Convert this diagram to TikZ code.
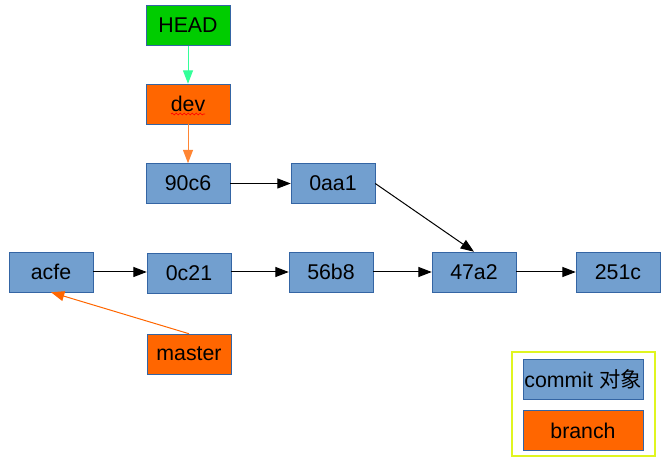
\documentclass[tikz,border=0pt]{standalone}
\usepackage{fontspec}
\setmainfont{Liberation Sans}
\newfontfamily\cjkfont{Noto Sans CJK SC}
\usetikzlibrary{arrows.meta,decorations.pathmorphing}

\definecolor{commitblue}{HTML}{729FCF}
\definecolor{boxline}{HTML}{3465A4}
\definecolor{branchorange}{HTML}{FF6600}
\definecolor{headgreen}{HTML}{00CC00}
\definecolor{headarrow}{HTML}{33FF99}
\definecolor{devarrow}{HTML}{FF8533}
\definecolor{legendyellow}{HTML}{E0F520}

\tikzset{
  commit/.style={draw=boxline,fill=commitblue,minimum width=63pt,minimum height=30pt,inner sep=0pt,font=\fontsize{16}{19}\selectfont},
  branch/.style={commit,fill=branchorange},
  link/.style={-{Triangle[length=10pt,width=7.5pt]},line width=0.75pt}
}

\begin{document}
\begin{tikzpicture}[x=0.75pt,y=-0.75pt]
  \useasboundingbox (0,0) rectangle (664,466);

  \node[branch,fill=headgreen] (head) at (188,25.5) {HEAD};
  \node[branch] (dev) at (188,104) {dev};
  \node[commit] (c90c6) at (188,183.5) {90c6};
  \node[commit] (c0aa1) at (333,183.5) {0aa1};
  \node[commit] (acfe) at (51,272) {acfe};
  \node[commit] (c0c21) at (189,273) {0c21};
  \node[commit] (c56b8) at (331,272) {56b8};
  \node[commit] (c47a2) at (474,272) {47a2};
  \node[commit] (c251c) at (618,272) {251c};
  \node[branch] (master) at (189,354) {master};

  % spell-check squiggle under dev
  \draw[red,line width=0.5pt,decorate,decoration={snake,amplitude=0.7pt,segment length=3pt}] (171,114) -- (205,114);

  \draw[link,headarrow] (head) -- (dev);
  \draw[link,devarrow] (dev) -- (c90c6);
  \draw[link] (c90c6) -- (c0aa1);
  \draw[link] (c0aa1.east) -- (c47a2.north);
  \draw[link] (acfe.east) -- (acfe.east -| c0c21.west);
  \draw[link] (c0c21.east |- c56b8.west) -- (c56b8.west);
  \draw[link] (c56b8) -- (c47a2);
  \draw[link] (c47a2) -- (c251c);
  \draw[link,branchorange] (master.north) -- (acfe.south);

  % legend
  \draw[legendyellow,line width=0.8pt] (512,352) rectangle (655,456);
  \node[commit,minimum width=90pt] (keycommit) at (583,379.5) {commit {\cjkfont 对象}};
  \node[branch,minimum width=90pt] (keybranch) at (583,430.5) {branch};
\end{tikzpicture}
\end{document}
